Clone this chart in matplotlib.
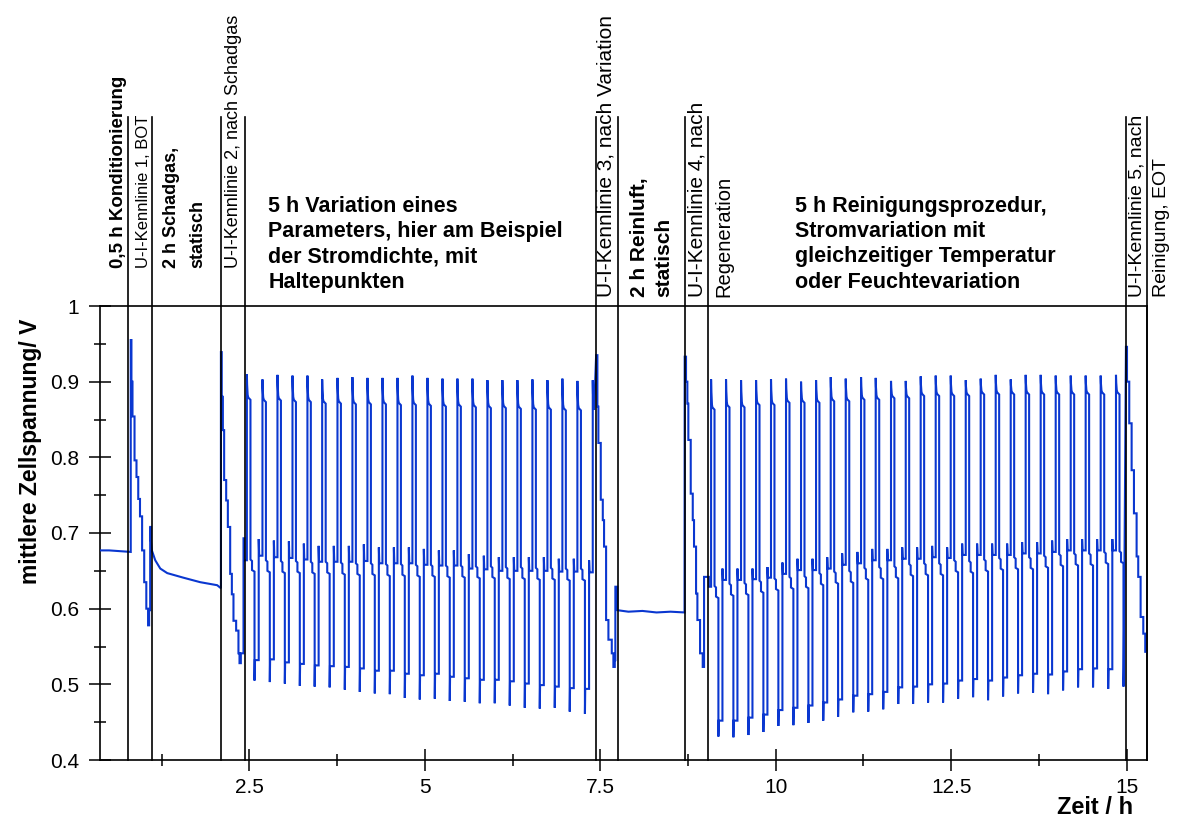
import matplotlib
matplotlib.use("Agg")
import matplotlib.pyplot as plt
from matplotlib.ticker import FixedLocator

# Zeit in h, mittlere Zellspannung in V

# Konditionierung
kond_t = [0.37, 0.50, 0.65, 0.808]
kond_v = [0.677, 0.677, 0.676, 0.675]

# U-I-Kennlinien als Stufen (Startzeit der Stufe, Spannung)
kl1_t = [0.808, 0.818, 0.833, 0.862, 0.890, 0.915, 0.940, 0.970, 1.000, 1.030, 1.055, 1.070, 1.085]
kl1_v = [0.955, 0.900, 0.854, 0.796, 0.774, 0.745, 0.722, 0.677, 0.635, 0.600, 0.578, 0.598, 0.708]

kl2_t = [2.093, 2.105, 2.121, 2.139, 2.168, 2.192, 2.225, 2.249, 2.272, 2.310, 2.343, 2.358, 2.377, 2.415, 2.425]
kl2_v = [0.939, 0.880, 0.836, 0.770, 0.743, 0.708, 0.646, 0.619, 0.584, 0.571, 0.541, 0.528, 0.541, 0.693, 0.664]

kl3_t = [7.440, 7.458, 7.472, 7.506, 7.535, 7.553, 7.582, 7.615, 7.663, 7.686, 7.706, 7.714]
kl3_v = [0.935, 0.867, 0.819, 0.744, 0.717, 0.682, 0.585, 0.559, 0.541, 0.523, 0.532, 0.629]

kl4_t = [8.702, 8.721, 8.740, 8.754, 8.788, 8.817, 8.835, 8.864, 8.883, 8.921, 8.959, 8.978, 9.046]
kl4_v = [0.933, 0.900, 0.871, 0.823, 0.752, 0.717, 0.682, 0.620, 0.585, 0.541, 0.523, 0.642, 0.629]

kl5_t = [14.990, 15.005, 15.037, 15.071, 15.104, 15.142, 15.165, 15.199, 15.237, 15.265]
kl5_v = [0.946, 0.900, 0.845, 0.783, 0.726, 0.669, 0.642, 0.589, 0.567, 0.543]

# statischer Schadgasbetrieb
schad_t = [1.095, 1.109, 1.157, 1.229, 1.328, 1.556, 1.798, 2.040, 2.093]
schad_v = [0.690, 0.677, 0.664, 0.653, 0.647, 0.641, 0.635, 0.631, 0.627]

# statischer Reinluftbetrieb
rein_t = [7.743, 7.90, 8.10, 8.30, 8.50, 8.700]
rein_v = [0.598, 0.596, 0.597, 0.595, 0.596, 0.595]

# Variation der Stromdichte: je Zyklus Startzeit und Spannungsniveaus
var_t = [2.463, 2.685, 2.899, 3.113, 3.326, 3.536, 3.754, 3.967, 4.181, 4.395, 4.609, 4.822,
         5.036, 5.250, 5.463, 5.677, 5.891, 6.104, 6.318, 6.532, 6.746, 6.959, 7.173, 7.392]
var_peak = [0.910, 0.903, 0.909, 0.908, 0.908, 0.903, 0.905, 0.906, 0.905, 0.905, 0.905, 0.908,
            0.905, 0.904, 0.904, 0.904, 0.902, 0.902, 0.902, 0.903, 0.902, 0.904, 0.901, 0.902]
var_shoulder = [0.879, 0.876, 0.878, 0.876, 0.876, 0.874, 0.874, 0.873, 0.873, 0.873, 0.872, 0.872,
                0.871, 0.870, 0.870, 0.869, 0.868, 0.868, 0.867, 0.866, 0.866, 0.865, 0.865, 0.863]
var_mid = [0.657, 0.656, 0.655, 0.655, 0.654, 0.654, 0.653, 0.652, 0.652, 0.651, 0.651, 0.650,
           0.650, 0.649, 0.649, 0.648, 0.648, 0.647, 0.647, 0.646, 0.646, 0.645, 0.645, 0.660]
var_low = [0.532, 0.533, 0.529, 0.527, 0.525, 0.524, 0.523, 0.521, 0.518, 0.518, 0.514, 0.512,
           0.514, 0.510, 0.508, 0.506, 0.506, 0.504, 0.501, 0.499, 0.497, 0.495, 0.494, 0.493]
var_min = [0.505, 0.503, 0.501, 0.498, 0.497, 0.496, 0.493, 0.490, 0.488, 0.487, 0.482, 0.480,
           0.481, 0.478, 0.477, 0.475, 0.475, 0.472, 0.469, 0.468, 0.469, 0.464, 0.461, 0.461]
var_rec_peak = [0.692, 0.690, 0.689, 0.686, 0.683, 0.683, 0.683, 0.685, 0.681, 0.681, 0.681, 0.679,
                0.677, 0.677, 0.672, 0.670, 0.668, 0.668, 0.668, 0.668, 0.666, 0.666, 0.664, 0.664]
var_rec = [0.670, 0.668, 0.667, 0.665, 0.662, 0.662, 0.662, 0.663, 0.660, 0.660, 0.660, 0.658,
           0.657, 0.657, 0.653, 0.652, 0.650, 0.650, 0.650, 0.650, 0.649, 0.649, 0.648, 0.648]

# Reinigungsprozedur: Stromvariation mit Temperatur-/Feuchtevariation
reg_t = [9.078, 9.291, 9.505, 9.719, 9.932, 10.146, 10.360, 10.574, 10.783, 10.997, 11.215, 11.424,
         11.642, 11.852, 12.065, 12.279, 12.493, 12.707, 12.920, 13.134, 13.348, 13.561, 13.775,
         13.989, 14.203, 14.416, 14.630, 14.848]
reg_peak = [0.903, 0.903, 0.902, 0.902, 0.903, 0.904, 0.900, 0.902, 0.906, 0.904, 0.906, 0.905,
            0.901, 0.901, 0.907, 0.908, 0.908, 0.902, 0.904, 0.909, 0.903, 0.909, 0.909, 0.908,
            0.908, 0.908, 0.908, 0.909]
reg_shoulder = [0.866, 0.869, 0.869, 0.872, 0.872, 0.875, 0.875, 0.875, 0.877, 0.877, 0.879, 0.879,
                0.881, 0.881, 0.884, 0.884, 0.884, 0.884, 0.886, 0.886, 0.886, 0.886, 0.886, 0.886,
                0.886, 0.886, 0.886, 0.886]
reg_mid = [0.622, 0.625, 0.626, 0.629, 0.632, 0.634, 0.635, 0.639, 0.641, 0.642, 0.646, 0.647,
           0.648, 0.651, 0.652, 0.652, 0.656, 0.655, 0.657, 0.659, 0.660, 0.660, 0.662, 0.664,
           0.665, 0.665, 0.667, 0.668]
reg_low = [0.452, 0.452, 0.456, 0.460, 0.466, 0.469, 0.472, 0.476, 0.480, 0.485, 0.487, 0.490,
           0.496, 0.497, 0.500, 0.501, 0.505, 0.507, 0.505, 0.509, 0.512, 0.514, 0.513, 0.517,
           0.520, 0.521, 0.520, 0.522]
reg_min = [0.431, 0.430, 0.433, 0.437, 0.445, 0.446, 0.449, 0.452, 0.457, 0.463, 0.464, 0.467,
           0.474, 0.474, 0.476, 0.476, 0.481, 0.483, 0.479, 0.484, 0.488, 0.489, 0.487, 0.492,
           0.496, 0.496, 0.494, 0.497]
reg_rec_peak = [0.653, 0.653, 0.653, 0.655, 0.661, 0.666, 0.666, 0.668, 0.673, 0.675, 0.679, 0.679,
                0.681, 0.681, 0.683, 0.681, 0.686, 0.686, 0.686, 0.686, 0.688, 0.688, 0.690, 0.692,
                0.692, 0.692, 0.692, 0.690]
reg_rec = [0.638, 0.638, 0.639, 0.641, 0.646, 0.651, 0.651, 0.653, 0.658, 0.660, 0.664, 0.664,
           0.666, 0.666, 0.668, 0.667, 0.671, 0.671, 0.671, 0.671, 0.673, 0.673, 0.675, 0.677,
           0.677, 0.677, 0.677, 0.675]

# Phasengrenzen (senkrechte Linien)
grenzen = [0.776, 1.118, 2.097, 2.439, 7.445, 7.749, 8.700, 9.038, 14.990, 15.29]

x_ticks = [2.5, 5, 7.5, 10, 12.5, 15]
x_ticklabels = ["2.5", "5", "7.5", "10", "12.5", "15"]
y_ticks = [0.4, 0.5, 0.6, 0.7, 0.8, 0.9, 1.0]
y_ticklabels = ["0.4", "0.5", "0.6", "0.7", "0.8", "0.9", "1"]

BLAU = "#0a37d0"
SANS = ["Liberation Sans", "DejaVu Sans"]


def treppe(t, v, t_end):
    # jede Stufe gilt bis zum Beginn der nächsten
    tt, vv = [], []
    for i in range(len(t)):
        te = t[i + 1] if i + 1 < len(t) else t_end
        tt += [t[i], te]
        vv += [v[i], v[i]]
    return tt, vv


def zyklen(t0, peak, sh, mid, low, vmin, rpk, rec, t_end):
    # Verlauf eines Lastzyklus, Zeitanteile relativ zur Zyklusdauer
    tt, vv = [], []
    for i in range(len(t0)):
        dauer = t0[i + 1] - t0[i] if i + 1 < len(t0) else t0[i] - t0[i - 1]
        ende = t0[i + 1] if i + 1 < len(t0) else t_end
        p, s = peak[i], sh[i]
        form = [(0.000, p), (0.015, s + 0.55 * (p - s)), (0.05, s + 0.12 * (p - s)),
                (0.09, s), (0.23, s - 0.003),
                (0.23, mid[i] + 0.008), (0.33, mid[i] + 0.006),
                (0.33, mid[i] - 0.006), (0.49, mid[i] - 0.008),
                (0.49, vmin[i]), (0.51, low[i]), (0.76, low[i]),
                (0.76, rpk[i]), (0.79, rec[i]), (1.0, rec[i])]
        for f, v in form:
            t = t0[i] + f * dauer
            if t > ende:
                break
            tt.append(min(t, ende - 1e-4) if f == 1.0 else t)
            vv.append(v)
    return tt, vv


teile = [
    (kond_t, kond_v),
    treppe(kl1_t, kl1_v, schad_t[0]),
    (schad_t, schad_v),
    treppe(kl2_t, kl2_v, var_t[0]),
    zyklen(var_t, var_peak, var_shoulder, var_mid, var_low, var_min, var_rec_peak, var_rec, kl3_t[0]),
    treppe(kl3_t, kl3_v, rein_t[0]),
    (rein_t, rein_v),
    treppe(kl4_t, kl4_v, reg_t[0]),
    zyklen(reg_t, reg_peak, reg_shoulder, reg_mid, reg_low, reg_min, reg_rec_peak, reg_rec, kl5_t[0]),
    treppe(kl5_t, kl5_v, 15.29),
]
zeit, spannung = [], []
for t, v in teile:
    zeit += list(t)
    spannung += list(v)

fig = plt.figure(figsize=(11.81, 8.23), dpi=100)
ax = fig.add_axes([100 / 1181, 63 / 823, 1047 / 1181, 454 / 823])

ax.plot(zeit, spannung, color=BLAU, linewidth=1.5, solid_joinstyle="miter", zorder=3)

ax.set_xlim(0.37, 15.29)
ax.set_ylim(0.4, 1.0)

# Phasengrenzen bis in den Beschriftungsbereich
for g in grenzen:
    ax.plot([g, g], [0.4, 1.25], color="black", linewidth=1.2, clip_on=False, zorder=4)

for s in ax.spines.values():
    s.set_linewidth(1.2)

ax.xaxis.set_major_locator(FixedLocator(x_ticks))
ax.xaxis.set_minor_locator(FixedLocator([1.25, 3.75, 6.25, 8.75, 11.25, 13.75]))
ax.yaxis.set_major_locator(FixedLocator(y_ticks))
ax.yaxis.set_minor_locator(FixedLocator([0.45, 0.55, 0.65, 0.75, 0.85, 0.95]))
ax.set_xticklabels(x_ticklabels, fontdict={"family": SANS, "size": 15})
ax.set_yticklabels(y_ticklabels, fontdict={"family": SANS, "size": 15})
ax.tick_params(which="major", direction="inout", length=16, width=1.1)
ax.tick_params(which="minor", direction="inout", length=8, width=1.1)
ax.tick_params(axis="x", which="major", pad=5)
ax.tick_params(axis="y", which="major", pad=7)
ax.tick_params(top=False, right=False)

ax.set_ylabel("mittlere Zellspannung/ V", fontdict={"family": SANS, "size": 16.5, "weight": "bold"})
ax.yaxis.set_label_coords(-0.066, 0.68)
ax.yaxis.label.set_va("center")
ax.set_xlabel("Zeit / h", fontdict={"family": SANS, "size": 17, "weight": "bold"})
ax.xaxis.set_label_coords(0.987, -0.104)
ax.xaxis.label.set_ha("right")
ax.xaxis.label.set_va("center")


# Phasenbeschriftungen
def senkrecht(x, y, text, size, bold=False, ls=1.25):
    ax.text(x, y, text, rotation=90, ha="center", va="bottom",
            fontsize=size, fontweight="bold" if bold else "normal", family=SANS,
            linespacing=ls, multialignment="left", clip_on=False)


senkrecht(0.637, 1.050, "0,5 h Konditionierung", 13.5, bold=True)
senkrecht(0.993, 1.050, "U-I-Kennlinie 1, BOT", 12)
senkrecht(1.580, 1.050, "2 h Schadgas,\nstatisch", 13, bold=True, ls=1.7)
senkrecht(2.268, 1.050, "U-I-Kennlinie 2, nach Schadgas", 13)
senkrecht(7.582, 1.012, "U-I-Kennlinie 3, nach Variation", 15)
senkrecht(8.237, 1.012, "2 h Reinluft,\nstatisch", 15, bold=True, ls=1.35)
senkrecht(8.878, 1.012, "U-I-Kennlinie 4, nach", 15)
senkrecht(9.263, 1.012, "Regeneration", 14.5)
senkrecht(15.15, 1.012, "U-I-Kennlinie 5, nach", 14)
senkrecht(15.50, 1.012, "Reinigung, EOT", 14)

block = dict(ha="left", va="top", fontsize=15.5, fontweight="bold", family=SANS,
             linespacing=1.28, clip_on=False)
ax.text(2.767, 1.146, "5 h Variation eines\nParameters, hier am Beispiel\nder Stromdichte, mit\nHaltepunkten", **block)
ax.text(10.277, 1.146, "5 h Reinigungsprozedur,\nStromvariation mit\ngleichzeitiger Temperatur\noder Feuchtevariation", **block)

fig.savefig("out.png", dpi=100)
